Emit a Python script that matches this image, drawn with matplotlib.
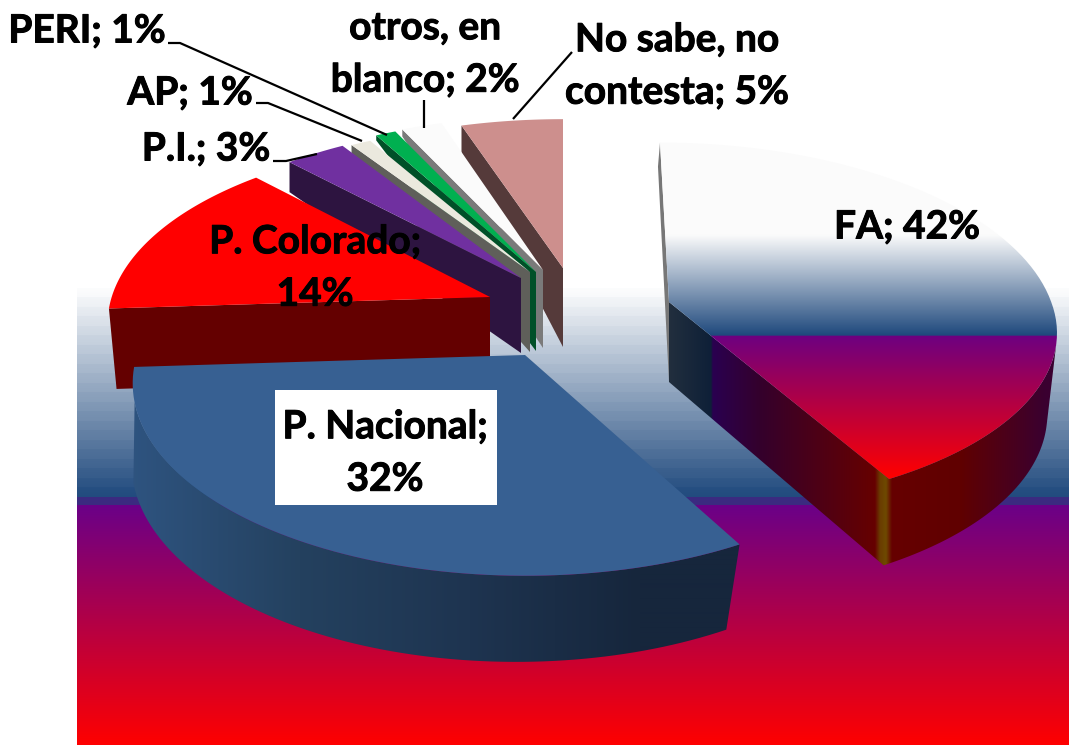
import numpy as np
import matplotlib
matplotlib.use("Agg")
import matplotlib.pyplot as plt
import matplotlib.patheffects as pe
from matplotlib.colors import to_rgb
from matplotlib.patches import Polygon, Rectangle

# ---------- data ----------
names = ["FA", "P. Nacional", "P. Colorado", "P.I.", "AP", "PERI", "otros, en blanco", "No sabe, no contesta"]
values = [42, 32, 14, 3, 1, 1, 2, 5]
label_texts = ["FA; 42%", "P. Nacional;\n32%", "P. Colorado;\n14%", "P.I.; 3%", "AP; 1%", "PERI; 1%",
               "otros, en\nblanco; 2%", "No sabe, no\ncontesta; 5%"]

# ---------- layout / style ----------
W, H = 1069, 745
RX, RY, K = 390.0, 176.0, 0.147
apex = [(669, 302), (525, 355), (490, 297), (521, 278), (530, 272), (536, 272), (543, 270), (563, 268)]
rscale = [0.98, 0.995, 0.97, 0.96, 0.96, 0.96, 0.96, 0.96]
yscale = [1.0, 1.07, 1.03, 1.0, 0.96, 1.0, 1.0, 0.97]
shrink = [0.975, 0.98, 0.98, 1.0, 1.0, 1.0, 1.0, 1.0]
bshift = [0, -9, 0, 0, 0, 0, 0, 0]
depth0 = [80, 79, 80, 75, 80, 79, 78, 79]
back = [24, 24, 24, 30, 8, 5, 7, 27]
lean_back = [-9, 0, 0, 0, 0, 0, 0, 0]
lean_front = [10, 0, 0, 0, 0, 0, 0, 0]
rise_back = [6, 0, 0, 0, 0, 0, 0, 0]
top_colors = [None, "#376092", "#FF0000", "#7030A0", "#EBE9DE", "#00B050", "#FBFBFB", "#CD8F8D"]
wall_colors = ["#777777", None, "#640000", "#2D1440", "#5F5F5A", "#005028", "#7A7A7A", "#553A3A"]
label_pos = [(907, 227), (385, 453), (315, 268), (206, 149), (190, 93), (87, 31), (425, 54), (677, 66)]
leaders = [[(168, 43), (180, 43), (387, 135)], [(256, 103), (268, 103), (362, 141)],
           [(273, 161), (286, 161), (317, 154)], [(424, 100), (424, 128)], [(572, 52), (513, 119)]]
fa_rim_start = np.radians(103)
nacional_rim_end = np.radians(256)

fracs = np.array(values, float) / sum(values)
edges = np.concatenate([[0], np.cumsum(fracs)]) * 2 * np.pi

fig = plt.figure(figsize=(W / 100, H / 100), dpi=100, facecolor="white")
ax = fig.add_axes([0, 0, 1, 1])


def ramp(coords, stops):
    pos = [s[0] for s in stops]
    cols = np.array([to_rgb(s[1]) for s in stops])
    return np.stack([np.interp(coords, pos, cols[:, c]) for c in range(3)], axis=-1)


def vgrad(y0, y1, stops, zorder, clip=None, x0=0, x1=W):
    ys = np.arange(y0, y1) + 0.5
    img = ramp(ys, stops)[:, None, :]
    im = ax.imshow(img, extent=(x0, x1, y1, y0), aspect="auto", zorder=zorder, interpolation="bilinear")
    if clip is not None:
        p = Polygon(clip, closed=True, transform=ax.transData, fc="none", ec="none")
        ax.add_patch(p)
        im.set_clip_path(p)
    return im


def hgrad(x0, x1, y0, y1, stops, zorder, clip):
    xs = np.arange(x0, x1) + 0.5
    img = ramp(xs, stops)[None, :, :]
    im = ax.imshow(img, extent=(x0, x1, y1, y0), aspect="auto", zorder=zorder, interpolation="bilinear")
    p = Polygon(clip, closed=True, transform=ax.transData, fc="none", ec="none")
    ax.add_patch(p)
    im.set_clip_path(p)
    return im


def top_pt(i, t):
    u, v = np.sin(t), np.cos(t)
    p = 1 / (1 + K * v)
    x = apex[i][0] + RX * rscale[i] * u * p + lean_back[i] * max(v, 0) + lean_front[i] * max(-v, 0)
    y = apex[i][1] - RY * yscale[i] * v * p - rise_back[i] * max(v, 0)
    return x, y


def bot_pt(i, t):
    x, y = top_pt(i, t)
    v = np.cos(t)
    d = back[i] if v > 0 else depth0[i] * (1 - 0.09 * v)
    bx = apex[i][0] + (x - apex[i][0]) * shrink[i] + bshift[i]
    if v > 0:
        bx += lean_back[i] * 0.25 * v
    return bx, y + d


def apex_bot(i):
    return apex[i][0], apex[i][1] + depth0[i]


def arc_top(i, a, b, n=80):
    return [top_pt(i, t) for t in np.linspace(a, b, n)]


def arc_bot(i, a, b, n=80):
    return [bot_pt(i, t) for t in np.linspace(a, b, n)]


def radial_wall(i, t):
    return [top_pt(i, t), apex[i], apex_bot(i), bot_pt(i, t)]


# ---------- background gradient (softly banded upper half) ----------
y_bg = np.arange(288, H) + 0.5
bg_rows = np.where(y_bg < 497, 288 + np.floor((y_bg - 288) / 9.5) * 9.5 + 4.7, y_bg)
bg_stops = [(288, "#FFFFFF"), (497, "#1F497D"), (497.01, "#3B2A80"), (505, "#3B2A80"),
            (505.01, "#6A0088"), (745, "#FF0000")]
bg_img = (0.55 * ramp(bg_rows, bg_stops) + 0.45 * ramp(y_bg, bg_stops))[:, None, :]
ax.imshow(bg_img, extent=(77, W, H, 288), aspect="auto", zorder=1, interpolation="nearest")

# ---------- FA slice (index 0) ----------
a, b = edges[0], edges[1]
ax.add_patch(Polygon(radial_wall(0, a), closed=True, fc=wall_colors[0], ec="none", zorder=2))
fa_wall = arc_top(0, fa_rim_start, b) + [apex[0], apex_bot(0)] + [bot_pt(0, b)] + arc_bot(0, b, fa_rim_start)[1:]
hgrad(660, 1060, 300, 570,
      [(660, "#26323F"), (711, "#0E2038"), (713, "#2A0050"), (760, "#34002C"), (875, "#660000"),
       (880, "#6A3C00"), (886, "#6E4A00"), (892, "#660000"), (960, "#600000"), (1045, "#3A0030")],
      2, fa_wall)
fa_top = arc_top(0, a, b) + [apex[0]]
vgrad(140, 480, [(140, "#FBFBFB"), (235, "#FBFBFB"), (335, "#1F497D"), (336.5, "#6E0080"), (477, "#FF0000")],
      3, fa_top)

# ---------- small slices, back to front ----------
order = [7, 6, 5, 4, 3, 2]
for n, i in enumerate(order):
    a, b = edges[i], edges[i + 1]
    z = 4 + n
    ax.add_patch(Polygon(radial_wall(i, a), closed=True, fc=wall_colors[i], ec="none", zorder=z))
    ax.add_patch(Polygon(arc_top(i, a, b) + [apex[i]], closed=True, fc=top_colors[i], ec="none", zorder=z + 0.5))

# ---------- P. Nacional ----------
a, b = edges[1], edges[2]
rim = arc_top(1, a, nacional_rim_end) + arc_bot(1, nacional_rim_end, a)
hgrad(120, 745, 360, 670, [(120, "#2F5582"), (300, "#24415F"), (470, "#1E3450"), (640, "#16263C"), (745, "#16263C")],
      12, rim)
ax.add_patch(Polygon(arc_top(1, a, b) + [apex[1]], closed=True, fc=top_colors[1], ec="none", zorder=13))

# ---------- labels ----------
ax.add_patch(Rectangle((275, 390), 222, 115, fc="white", ec="none", zorder=14))
for seg in leaders:
    xs, ys = zip(*seg)
    ax.plot(xs, ys, color="black", lw=1.6, zorder=15, solid_capstyle="butt")
for txt, (x, y) in zip(label_texts, label_pos):
    ax.text(x, y, txt, ha="center", va="center", fontsize=28, fontweight="bold", family="Lato",
            color="black", linespacing=1.6, zorder=16,
            path_effects=[pe.withStroke(linewidth=0.7, foreground="black")])

ax.set_xlim(0, W)
ax.set_ylim(H, 0)
ax.axis("off")
fig.savefig("out.png", dpi=100, facecolor="white")
